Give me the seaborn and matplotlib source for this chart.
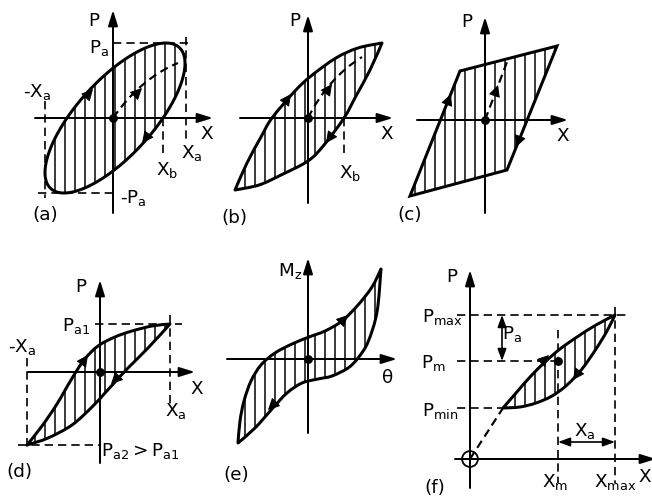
import numpy as np
import matplotlib
matplotlib.use("Agg")
import matplotlib.pyplot as plt
from matplotlib.path import Path
from matplotlib.patches import PathPatch, Polygon
import seaborn as sns

sns.set_theme(style="white")
plt.rcParams["font.family"] = ["DejaVu Sans"]
plt.rcParams["mathtext.default"] = "regular"
plt.rcParams["hatch.linewidth"] = 0.9
plt.rcParams["hatch.color"] = "black"
plt.rcParams["lines.scale_dashes"] = False

# ---------------------------------------------------------------------------
# Loop data.  Each panel has its own (X, P) frame with the origin at the
# crossing of its axes; X grows to the right, P grows upward.
# ---------------------------------------------------------------------------

# (a) elliptic loop
a_centre = (2.0, 0.0)
a_Xa, a_Pa, a_Xb = 70.0, 75.0, 50.0
a_virgin = [(0, 0), (28, 40), (65, 55)]

# (b) lens-shaped loop
b_upper = [(-73, -72), (-61, -45), (-47, -19), (-36, 0), (-13, 27), (3, 42),
           (28, 60), (50, 70), (74, 75)]
b_lower = [(-73, -72), (-49, -67), (-27, -57), (0, -43), (16, -27), (36, 0),
           (48, 22), (62, 48), (74, 75)]
b_Xb = 36.0
b_virgin = [(0, 0), (20, 40), (54, 61)]

# (c) bilinear (parallelogram) loop
c_corners = [(-75, -76), (-25, 49), (72, 74), (22, -50)]
c_virgin = [(0, 0), (22, 58)]

# (d) asymmetric loop, Pa2 > Pa1
d_upper = [(-73, -73), (-58, -54), (-43, -32), (-29, -8), (-16, 12), (-2, 26),
           (15, 35), (32, 41), (52, 46), (70, 48)]
d_lower = [(-73, -73), (-52, -66), (-28, -53), (-8, -35), (5, -21), (15, -10),
           (28, 4), (48, 24), (70, 48)]
d_Xa, d_negXa, d_Pa1, d_Pa2 = 70.0, -73.0, 48.0, -73.0

# (e) torsion loop Mz - theta
e_upper = [(-70, -84), (-68, -62), (-64, -42), (-57, -22), (-47, -6), (-33, 6),
           (-16, 15), (1, 22), (17, 28), (34, 38), (50, 54), (64, 72), (73, 90)]
e_lower = [(-70, -84), (-53, -69), (-36, -50), (-21, -34), (-6, -24), (10, -20),
           (24, -17), (40, -9), (50, 1), (60, 17), (69, 47), (73, 90)]

# (f) loop with mean load
f_upper = [(33, 51), (46, 66), (60, 82), (75, 97), (90, 110), (107, 122),
           (126, 134), (145, 144)]
f_lower = [(33, 51), (50, 52), (66, 56), (82, 63), (97, 74), (112, 90),
           (126, 110), (137, 128), (145, 144)]
f_Xm, f_Xmax = 88.0, 145.0
f_Pmin, f_Pm, f_Pmax = 51.0, 98.0, 144.0

# ---------------------------------------------------------------------------
# Layout: figure size in pixels, panel origins and axis extents (pixels)
# ---------------------------------------------------------------------------
W, H, DPI = 652, 496, 120
origins = {"a": (113, 118), "b": (308, 118), "c": (485, 120),
           "d": (100, 372), "e": (308, 359), "f": (470, 459)}
# (x_left, x_right, y_bottom, y_top) of the axis arrows
axis_span = {"a": (-78, 100, -95, 108), "b": (-68, 85, -85, 103),
             "c": (-68, 83, -93, 103), "d": (-72, 95, -91, 92),
             "e": (-81, 89, -74, 101), "f": (-15, 186, -29, 189)}

FS = 11
LW_LOOP = 1.8
LW_AXIS = 1.2
LW_DASH = 1.0
DASH = (0, (5, 3))

fig = plt.figure(figsize=(W / DPI, H / DPI), dpi=DPI)
fig.patch.set_facecolor("white")


def panel(key):
    ox, oy = origins[key]
    ax = fig.add_axes([0, 0, 1, 1], facecolor="none")
    ax.set_xlim(-ox, W - ox)
    ax.set_ylim(oy - H, oy)
    ax.axis("off")
    x0, x1, y0, y1 = axis_span[key]
    style = "-|>,head_length=0.65,head_width=0.2"
    for p, q in [((x0, 0), (x1, 0)), ((0, y0), (0, y1))]:
        ax.annotate("", xy=q, xytext=p,
                    arrowprops=dict(arrowstyle=style, color="black",
                                    lw=LW_AXIS, shrinkA=0, shrinkB=0,
                                    mutation_scale=12),
                    annotation_clip=False)
    return ax


def smooth(points):
    p = np.asarray(points, float)
    ext = np.vstack([p[0], p, p[-1]])
    verts = [p[0]]
    for i in range(len(p) - 1):
        q0, q1, q2, q3 = ext[i], ext[i + 1], ext[i + 2], ext[i + 3]
        verts += [q1 + (q2 - q0) / 6, q2 - (q3 - q1) / 6, q2]
    return np.array(verts)


def loop_patch(ax, upper, lower):
    up = smooth(upper)
    lo = smooth(lower[::-1])
    verts = np.vstack([up, lo[1:], up[:1]])
    codes = ([Path.MOVETO] + [Path.CURVE4] * (len(up) - 1)
             + [Path.CURVE4] * (len(lo) - 1) + [Path.CLOSEPOLY])
    ax.add_patch(PathPatch(Path(verts, codes), facecolor="none",
                           edgecolor="black", lw=LW_LOOP, hatch="||",
                           joinstyle="round"))


def dashed(ax, xs, ys):
    ax.plot(xs, ys, color="black", lw=LW_DASH, linestyle=DASH,
            dash_capstyle="butt", clip_on=False)


def virgin_curve(ax, ctrl):
    ctrl = np.asarray(ctrl, float)
    if len(ctrl) == 2:
        path = Path(ctrl, [Path.MOVETO, Path.LINETO])
    else:
        path = Path(ctrl, [Path.MOVETO, Path.CURVE3, Path.CURVE3])
    ax.add_patch(PathPatch(path, facecolor="none", edgecolor="black",
                           lw=1.3, linestyle=DASH))


def head(ax, tail, tip):
    ax.annotate("", xy=tip, xytext=tail,
                arrowprops=dict(arrowstyle="-|>,head_length=0.6,head_width=0.3",
                                color="black", lw=0.6, shrinkA=0, shrinkB=0,
                                mutation_scale=10))


def dot(ax, x, y):
    sns.scatterplot(x=[x], y=[y], ax=ax, s=28, color="black",
                    edgecolor="black", linewidth=0, zorder=6, legend=False)


def label(ax, s, x, y, ha="center", va="center"):
    ax.text(x, y, s, fontsize=FS, ha=ha, va=va, color="black", zorder=8)


# ---------------------------- (a) -----------------------------------------
ax = panel("a")
t = np.linspace(0, 2 * np.pi, 361)
delta = np.arcsin((a_Xb - a_centre[0]) / a_Xa)
ell = np.column_stack([a_centre[0] + a_Xa * np.cos(t),
                       a_centre[1] + a_Pa * np.cos(t - delta)])
ax.add_patch(Polygon(ell, closed=True, facecolor="none", edgecolor="black",
                     lw=LW_LOOP, hatch="||"))
xr, xl = a_centre[0] + a_Xa, a_centre[0] - a_Xa
dashed(ax, [0, xr + 6], [a_Pa, a_Pa])
dashed(ax, [xr + 1, xr + 1], [a_Pa + 6, -22])
dashed(ax, [xl, xl], [17, -a_Pa - 5])
dashed(ax, [xl - 7, 0], [-a_Pa, -a_Pa])
dashed(ax, [a_Xb, a_Xb], [0, -39])
virgin_curve(ax, a_virgin)
head(ax, (-28, 20), (-20, 29))
head(ax, (36, -16), (29, -25))
head(ax, (22, 23), (29, 30))
dot(ax, 0, 0)
label(ax, "P", -19, 97)
label(ax, "$P_a$", -14, 70)
label(ax, "-$X_a$", -76, 26)
label(ax, "X", 94, -16)
label(ax, "$X_a$", 79, -35)
label(ax, "$X_b$", 54, -52)
label(ax, "-$P_a$", 20, -80)
label(ax, "(a)", -68, -97)

# ---------------------------- (b) -----------------------------------------
ax = panel("b")
loop_patch(ax, b_upper, b_lower)
dashed(ax, [b_Xb, b_Xb], [0, -39])
virgin_curve(ax, b_virgin)
head(ax, (-22, 17), (-17, 24))
head(ax, (23, -18), (18, -25))
head(ax, (19, 27), (24, 34))
dot(ax, 0, 0)
label(ax, "P", -13, 97)
label(ax, "X", 79, -16)
label(ax, "$X_b$", 42, -55)
label(ax, "(b)", -74, -100)

# ---------------------------- (c) -----------------------------------------
ax = panel("c")
ax.add_patch(Polygon(c_corners, closed=True, facecolor="none",
                     edgecolor="black", lw=LW_LOOP, hatch="||",
                     joinstyle="miter"))
virgin_curve(ax, c_virgin)
head(ax, (-37.6, 17), (-34, 26))
head(ax, (34.6, -18), (31, -27))
head(ax, (10, 26), (13, 35))
dot(ax, 0, 0)
label(ax, "P", -18, 98)
label(ax, "X", 78, -16)
label(ax, "(c)", -75, -95)

# ---------------------------- (d) -----------------------------------------
ax = panel("d")
loop_patch(ax, d_upper, d_lower)
dashed(ax, [-5, d_Xa + 12], [d_Pa1, d_Pa1])
dashed(ax, [d_Xa, d_Xa], [d_Pa1 + 9, -35])
dashed(ax, [d_negXa, d_negXa], [14, d_Pa2 - 5])
dashed(ax, [d_negXa - 9, 0], [d_Pa2, d_Pa2])
head(ax, (-17, 10), (-12, 17))
head(ax, (17, -6), (11, -12))
dot(ax, 0, 0)
label(ax, "P", -19, 85)
label(ax, "$P_{a1}$", -24, 46)
label(ax, "-$X_a$", -78, 25)
label(ax, "X", 97, -17)
label(ax, "$X_a$", 76, -39)
label(ax, "$P_{a2} > P_{a1}$", 1, -79, ha="left")
label(ax, "(d)", -81, -100)

# ---------------------------- (e) -----------------------------------------
ax = panel("e")
loop_patch(ax, e_upper, e_lower)
head(ax, (34, 38), (40, 44))
head(ax, (-34, -45), (-40, -51))
dot(ax, 0, 0)
label(ax, "$M_z$", -18, 88)
label(ax, "θ", 80, -19)
label(ax, "(e)", -72, -116)

# ---------------------------- (f) -----------------------------------------
ax = panel("f")
loop_patch(ax, f_upper, f_lower)
dashed(ax, [-13, f_Xmax + 12], [f_Pmax, f_Pmax])
dashed(ax, [-13, f_Xm], [f_Pm, f_Pm])
dashed(ax, [-13, f_upper[0][0]], [f_Pmin, f_Pmin])
dashed(ax, [f_Xm, f_Xm], [f_Pmax - 15, -24])
dashed(ax, [f_Xmax, f_Xmax], [f_Pmax + 8, -24])
virgin_curve(ax, [(0, 0), f_upper[0]])
for (p, q) in [((32, f_Pm), (32, f_Pmax)), ((f_Xm, 17), (f_Xmax, 17))]:
    ax.annotate("", xy=q, xytext=p,
                arrowprops=dict(arrowstyle="<|-|>,head_length=0.6,head_width=0.22",
                                color="black", lw=1.0, shrinkA=0, shrinkB=0,
                                mutation_scale=10))
head(ax, (73, 98), (79, 104))
head(ax, (108, 86), (103, 79))
sns.scatterplot(x=[0], y=[0], ax=ax, s=90, facecolor="none",
                edgecolor="black", linewidth=1.1, zorder=6, legend=False)
dot(ax, f_Xm, f_Pm)
label(ax, "P", -18, 182)
label(ax, "$P_{max}$", -28, 142)
label(ax, "$P_m$", -37, 96)
label(ax, "$P_{min}$", -30, 48)
label(ax, "$P_a$", 42, 125)
label(ax, "$X_a$", 115, 28)
label(ax, "$X_m$", 85, -23)
label(ax, "$X_{max}$", 145, -23)
label(ax, "X", 181, -18, ha="right")
label(ax, "(f)", -35, -29)

fig.savefig("out.png", dpi=DPI, facecolor="white")
